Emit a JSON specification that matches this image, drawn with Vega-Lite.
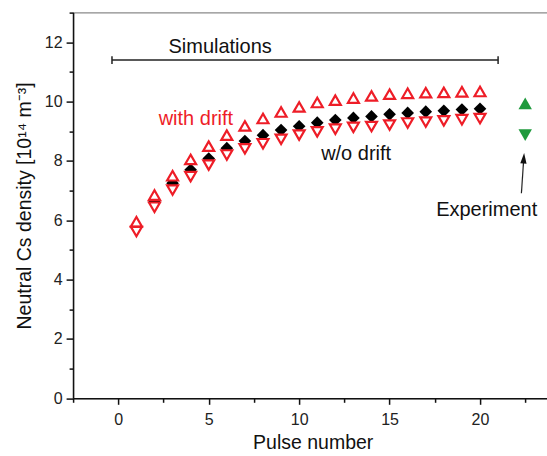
{
  "$schema": "https://vega.github.io/schema/vega-lite/v6.json",
  "autosize": {"type": "none"},
  "width": 479.25,
  "height": 385.7,
  "padding": {"left": 73.1, "top": 12.6, "right": 0, "bottom": 58},
  "background": "white",
  "config": {
    "font": "Liberation Sans",
    "view": {"stroke": "#8a8a8a", "strokeWidth": 1.2},
    "axis": {"grid": false, "domainColor": "#111", "tickColor": "#111", "domainWidth": 1.5, "tickWidth": 1.5, "labelColor": "#222", "titleColor": "#111", "labelFontSize": 16, "titleFontSize": 19.5, "titleFontWeight": "normal", "labelFlush": false, "labelOverlap": false}
  },
  "datasets": {
    "points": [
      {"pulse": 1, "series": "with drift", "density": 5.95},
      {"pulse": 2, "series": "with drift", "density": 6.85},
      {"pulse": 3, "series": "with drift", "density": 7.5},
      {"pulse": 4, "series": "with drift", "density": 8.05},
      {"pulse": 5, "series": "with drift", "density": 8.5},
      {"pulse": 6, "series": "with drift", "density": 8.87},
      {"pulse": 7, "series": "with drift", "density": 9.18},
      {"pulse": 8, "series": "with drift", "density": 9.43},
      {"pulse": 9, "series": "with drift", "density": 9.65},
      {"pulse": 10, "series": "with drift", "density": 9.82},
      {"pulse": 11, "series": "with drift", "density": 9.97},
      {"pulse": 12, "series": "with drift", "density": 10.05},
      {"pulse": 13, "series": "with drift", "density": 10.12},
      {"pulse": 14, "series": "with drift", "density": 10.19},
      {"pulse": 15, "series": "with drift", "density": 10.25},
      {"pulse": 16, "series": "with drift", "density": 10.28},
      {"pulse": 17, "series": "with drift", "density": 10.3},
      {"pulse": 18, "series": "with drift", "density": 10.31},
      {"pulse": 19, "series": "with drift", "density": 10.33},
      {"pulse": 20, "series": "with drift", "density": 10.34},
      {"pulse": 1, "series": "black", "density": 5.76},
      {"pulse": 2, "series": "black", "density": 6.62},
      {"pulse": 3, "series": "black", "density": 7.25},
      {"pulse": 4, "series": "black", "density": 7.7},
      {"pulse": 5, "series": "black", "density": 8.08},
      {"pulse": 6, "series": "black", "density": 8.43},
      {"pulse": 7, "series": "black", "density": 8.67},
      {"pulse": 8, "series": "black", "density": 8.87},
      {"pulse": 9, "series": "black", "density": 9.04},
      {"pulse": 10, "series": "black", "density": 9.17},
      {"pulse": 11, "series": "black", "density": 9.29},
      {"pulse": 12, "series": "black", "density": 9.38},
      {"pulse": 13, "series": "black", "density": 9.45},
      {"pulse": 14, "series": "black", "density": 9.5},
      {"pulse": 15, "series": "black", "density": 9.57},
      {"pulse": 16, "series": "black", "density": 9.62},
      {"pulse": 17, "series": "black", "density": 9.66},
      {"pulse": 18, "series": "black", "density": 9.69},
      {"pulse": 19, "series": "black", "density": 9.73},
      {"pulse": 20, "series": "black", "density": 9.76},
      {"pulse": 1, "series": "w/o drift", "density": 5.62},
      {"pulse": 2, "series": "w/o drift", "density": 6.44},
      {"pulse": 3, "series": "w/o drift", "density": 7.02},
      {"pulse": 4, "series": "w/o drift", "density": 7.47},
      {"pulse": 5, "series": "w/o drift", "density": 7.86},
      {"pulse": 6, "series": "w/o drift", "density": 8.2},
      {"pulse": 7, "series": "w/o drift", "density": 8.41},
      {"pulse": 8, "series": "w/o drift", "density": 8.58},
      {"pulse": 9, "series": "w/o drift", "density": 8.73},
      {"pulse": 10, "series": "w/o drift", "density": 8.87},
      {"pulse": 11, "series": "w/o drift", "density": 8.98},
      {"pulse": 12, "series": "w/o drift", "density": 9.07},
      {"pulse": 13, "series": "w/o drift", "density": 9.13},
      {"pulse": 14, "series": "w/o drift", "density": 9.16},
      {"pulse": 15, "series": "w/o drift", "density": 9.21},
      {"pulse": 16, "series": "w/o drift", "density": 9.28},
      {"pulse": 17, "series": "w/o drift", "density": 9.31},
      {"pulse": 18, "series": "w/o drift", "density": 9.35},
      {"pulse": 19, "series": "w/o drift", "density": 9.39},
      {"pulse": 20, "series": "w/o drift", "density": 9.43},
      {"pulse": 22.5, "series": "exp up", "density": 9.94},
      {"pulse": 22.5, "series": "exp down", "density": 8.87}
    ],
    "bracket": [
      {"pulse": -0.35, "pulse_end": 21, "density": 11.4, "density_end": 11.4},
      {"pulse": -0.35, "pulse_end": -0.35, "density": 11.27, "density_end": 11.53},
      {"pulse": 21, "pulse_end": 21, "density": 11.27, "density_end": 11.53}
    ],
    "arrow": [
      {"pulse": 22.29, "pulse_end": 22.42, "density": 6.91, "density_end": 8.09}
    ],
    "notes": [
      {"pulse": 5.63, "density": 11.64, "label": "Simulations"},
      {"pulse": 4.29, "density": 9.21, "label": "with drift"},
      {"pulse": 13.15, "density": 8.04, "label": "w/o drift"},
      {"pulse": 20.37, "density": 6.14, "label": "Experiment"}
    ]
  },
  "encoding": {
    "x": {
      "field": "pulse", "type": "quantitative",
      "scale": {"domain": [-2.5, 24], "nice": false, "zero": false},
      "axis": {
        "title": "Pulse number",
        "values": [-2.5, 0, 2.5, 5, 7.5, 10, 12.5, 15, 17.5, 20, 22.5],
        "labelExpr": "datum.value % 5 === 0 ? datum.label : ''",
        "tickSize": {"condition": {"test": "datum.value % 5 !== 0", "value": 4}, "value": 6},
        "labelPadding": 7,
        "titlePadding": 6
      }
    },
    "y": {
      "field": "density", "type": "quantitative",
      "scale": {"domain": [0, 13], "nice": false, "zero": false},
      "axis": {
        "title": "Neutral Cs density [10¹⁴ m⁻³]",
        "values": [0, 1, 2, 3, 4, 5, 6, 7, 8, 9, 10, 11, 12, 13],
        "labelExpr": "datum.value % 2 === 0 ? datum.label : ''",
        "tickSize": {"condition": {"test": "datum.value % 2 !== 0", "value": 4}, "value": 7},
        "labelPadding": 4,
        "titlePadding": 10
      }
    }
  },
  "layer": [
    {
      "data": {"name": "bracket"},
      "mark": {"type": "rule", "color": "#222", "strokeWidth": 1.5},
      "encoding": {"x2": {"field": "pulse_end"}, "y2": {"field": "density_end"}}
    },
    {
      "data": {"name": "arrow"},
      "mark": {"type": "rule", "color": "#222", "strokeWidth": 1.2},
      "encoding": {"x2": {"field": "pulse_end"}, "y2": {"field": "density_end"}}
    },
    {
      "data": {"name": "arrow"},
      "mark": {"type": "point", "shape": "M0,-1L-0.6,1L0.6,1Z", "filled": true, "color": "#111", "size": 110, "angle": 4, "opacity": 1},
      "encoding": {"x": {"field": "pulse_end", "type": "quantitative"}, "y": {"field": "density_end", "type": "quantitative"}}
    },
    {
      "data": {"name": "points"},
      "transform": [{"filter": "datum.series === 'black'"}],
      "mark": {"type": "point", "shape": "diamond", "filled": true, "color": "#000", "size": 160, "opacity": 1}
    },
    {
      "data": {"name": "points"},
      "transform": [{"filter": "datum.series === 'with drift'"}],
      "mark": {"type": "point", "shape": "triangle-up", "filled": true, "fill": "white", "stroke": "#ee1d27", "strokeWidth": 2.2, "size": 120, "opacity": 1}
    },
    {
      "data": {"name": "points"},
      "transform": [{"filter": "datum.series === 'w/o drift'"}],
      "mark": {"type": "point", "shape": "triangle-down", "filled": true, "fill": "white", "stroke": "#ee1d27", "strokeWidth": 2.2, "size": 120, "opacity": 1}
    },
    {
      "data": {"name": "points"},
      "transform": [{"filter": "datum.series === 'exp up'"}],
      "mark": {"type": "point", "shape": "triangle-up", "filled": true, "color": "#1f9a3d", "size": 180, "opacity": 1}
    },
    {
      "data": {"name": "points"},
      "transform": [{"filter": "datum.series === 'exp down'"}],
      "mark": {"type": "point", "shape": "triangle-down", "filled": true, "color": "#1f9a3d", "size": 180, "opacity": 1}
    },
    {
      "data": {"name": "notes"},
      "transform": [{"filter": "datum.label === 'with drift'"}],
      "mark": {"type": "text", "fontSize": 20, "baseline": "alphabetic", "align": "center", "color": "#ee1d27"},
      "encoding": {"text": {"field": "label"}}
    },
    {
      "data": {"name": "notes"},
      "transform": [{"filter": "datum.label !== 'with drift'"}],
      "mark": {"type": "text", "fontSize": 20, "baseline": "alphabetic", "align": "center", "color": "#111"},
      "encoding": {"text": {"field": "label"}}
    }
  ]
}
